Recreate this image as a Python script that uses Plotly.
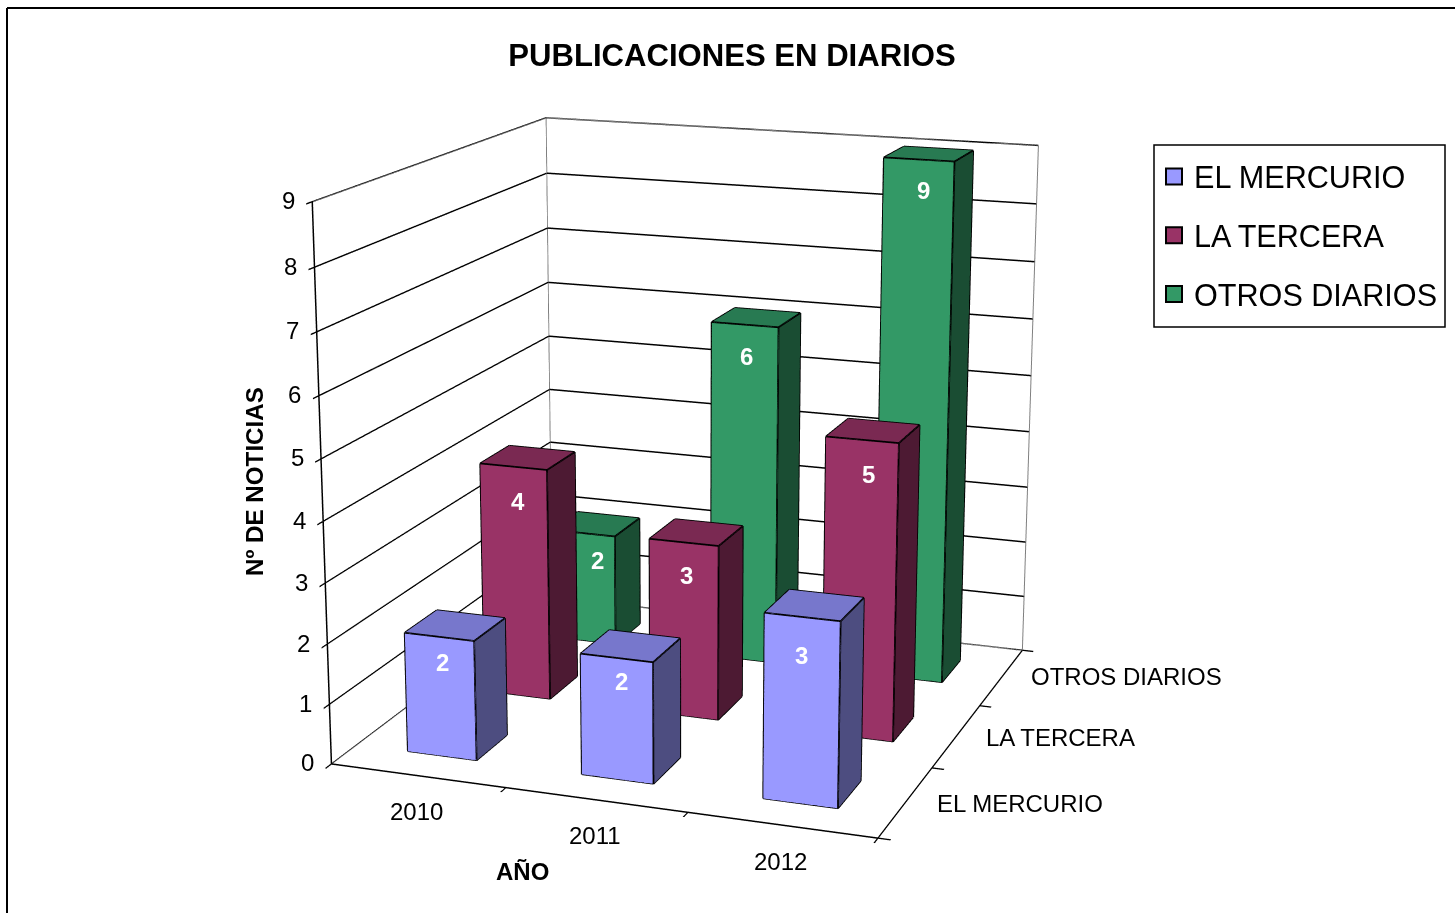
import plotly.graph_objects as go

YEARS = ["2010", "2011", "2012"]
SERIES = ["EL MERCURIO", "LA TERCERA", "OTROS DIARIOS"]
EL_MERCURIO = [2, 2, 3]
LA_TERCERA = [4, 3, 5]
OTROS_DIARIOS = [2, 6, 9]
VALUES = [EL_MERCURIO, LA_TERCERA, OTROS_DIARIOS]
Z_TICKS = list(range(10))
FRONT = ["#9999FF", "#993366", "#339966"]
TOP = ["#7777CC", "#7A2952", "#287A52"]
SIDE = ["#4D4D80", "#4D1A33", "#1A4D33"]
BAR_LO, BAR_HI = 0.3, 0.7
FONT = "Liberation Sans, Arial, sans-serif"

# pixel nudges for the labels, per series and year
LABEL_DX = [[0, 2, -4], [2, 0, 3], [11, -1, 1]]
LABEL_DY = [[-3, -5, 10], [6, 4, 6], [-2, 3, 2]]
SERIES_DX = [29, 27, 27]
SERIES_DY = [2, 2, -1]

# The page window is 913 tall; a taller plot area gives the longer lens the reference has.
W, H, TOP_OFFSET = 1455, 2400, 744
def px(x): return x / W
def py(y): return 1 - (y + TOP_OFFSET) / H

fig = go.Figure()
for j, (name, vals) in enumerate(zip(SERIES, VALUES)):
    vx, vy, vz, fi, fj, fk, fc = [], [], [], [], [], [], []
    ex, ey, ez = [], [], []
    for i, v in enumerate(vals):
        x0, x1, y0, y1 = i + BAR_LO, i + BAR_HI, j + BAR_LO, j + BAR_HI
        n = len(vx)
        vx += [x0, x1, x1, x0, x0, x1, x1, x0]
        vy += [y0, y0, y1, y1, y0, y0, y1, y1]
        vz += [0, 0, 0, 0, v, v, v, v]
        quads = [((0, 1, 5, 4), FRONT[j]), ((1, 2, 6, 5), SIDE[j]), ((4, 5, 6, 7), TOP[j]),
                 ((3, 2, 6, 7), SIDE[j]), ((0, 3, 7, 4), SIDE[j]), ((0, 1, 2, 3), SIDE[j])]
        for q, col in quads:
            fi += [n + q[0], n + q[0]]
            fj += [n + q[1], n + q[2]]
            fk += [n + q[2], n + q[3]]
            fc += [col, col]
        for a, b in [(0,1),(1,2),(2,3),(3,0),(4,5),(5,6),(6,7),(7,4),(0,4),(1,5),(2,6),(3,7)]:
            ex += [vx[n + a], vx[n + b], None]
            ey += [vy[n + a], vy[n + b], None]
            ez += [vz[n + a], vz[n + b], None]
    fig.add_trace(go.Mesh3d(x=vx, y=vy, z=vz, i=fi, j=fj, k=fk, facecolor=fc, flatshading=True,
                            lighting=dict(ambient=1, diffuse=0, specular=0, fresnel=0),
                            hoverinfo="skip", showlegend=False))
    fig.add_trace(go.Scatter3d(x=ex, y=ey, z=ez, mode="lines", line=dict(color="black", width=3.5),
                               hoverinfo="skip", showlegend=False))
    # legend key: a marker sitting inside the first bar of the series
    fig.add_trace(go.Scatter3d(x=[0.5], y=[j + 0.5], z=[vals[0] / 2], mode="markers", name=name,
                               legendgroup=name, showlegend=True, hoverinfo="skip",
                               marker=dict(symbol="square", size=20, color=FRONT[j],
                                           line=dict(color="black", width=2))))

NX, NY, NZ = len(YEARS), len(SERIES), Z_TICKS[-1]
fig.add_trace(go.Scatter3d(
    x=[0, 0, None, 0, 0, NX, NX, None, 0, NX, None, 0, 0],
    y=[0, NY, None, NY, NY, NY, NY, None, NY, NY, None, 0, NY],
    z=[NZ, NZ, None, 0, NZ, NZ, 0, None, 0, 0, None, 0, 0],
    mode="lines", line=dict(color="#808080", width=2), hoverinfo="skip", showlegend=False))

text_font = dict(family=FONT, size=24, color="black")
annos = []
for j, vals in enumerate(VALUES):
    for i, v in enumerate(vals):
        annos.append(dict(x=i + 0.5, y=j + BAR_LO, z=v, text=f"<b>{v}</b>", showarrow=False,
                          xshift=3 + LABEL_DX[j][i], yshift=-29 - LABEL_DY[j][i],
                          font=dict(family=FONT, size=24, color="white")))
for i, t in enumerate(YEARS):
    annos.append(dict(x=i + 0.5, y=0, z=0, text=t, showarrow=False, xshift=-1, yshift=-36, font=text_font))
for j, t in enumerate(SERIES):
    annos.append(dict(x=NX, y=j + 0.5, z=0, text=t, showarrow=False, xanchor="left",
                      xshift=SERIES_DX[j], yshift=-SERIES_DY[j], font=text_font))
for k in Z_TICKS:
    annos.append(dict(x=0, y=0, z=k, text=str(k), showarrow=False, xshift=-24, yshift=1, font=text_font))

axis_common = dict(showgrid=False, zeroline=False, showbackground=True, backgroundcolor="white",
                   showline=True, linecolor="black", linewidth=3, ticks="outside", ticklen=10,
                   tickcolor="black", tickwidth=3, title=dict(text=""), showspikes=False)
fig.update_layout(
    width=W, height=H, autosize=False, margin=dict(l=0, r=0, t=0, b=0),
    paper_bgcolor="white", font=dict(family=FONT, color="black"),
    title=dict(text="<b>PUBLICACIONES EN DIARIOS</b>", x=px(732), xanchor="center", y=py(55),
               yanchor="middle", font=dict(family=FONT, size=31.1, color="black")),
    legend=dict(x=px(1154), y=py(150), xanchor="left", yanchor="top", borderwidth=0,
                bgcolor="rgba(0,0,0,0)", font=dict(family=FONT, size=30.6, color="black"),
                tracegroupgap=16, itemsizing="trace"),
    scene=dict(
        domain=dict(x=[0, 1], y=[0, 1]),
        aspectmode="manual", aspectratio=dict(x=0.9997, y=1.0122, z=1.0),
        camera=dict(eye=dict(x=1.719, y=-4.7915, z=1.3517), center=dict(x=0.0539, y=0.0164, z=-0.0209),
                    up=dict(x=-0.08879, y=0.24489, z=0.96548), projection=dict(type="perspective")),
        xaxis=dict(axis_common, range=[0, NX], tickmode="array", tickvals=list(range(NX + 1)),
                   ticktext=[" "] * (NX + 1)),
        yaxis=dict(axis_common, range=[0, NY], tickmode="array", tickvals=list(range(NY + 1)),
                   ticktext=[" "] * (NY + 1)),
        zaxis=dict(axis_common, range=[0, NZ], tickmode="array", tickvals=Z_TICKS,
                   ticktext=[" "] * len(Z_TICKS), showgrid=True, gridcolor="black", gridwidth=3),
        annotations=annos),
    annotations=[
        dict(xref="paper", yref="paper", x=px(254), y=py(482), xanchor="center", yanchor="middle",
             text="<b>Nº DE NOTICIAS</b>", textangle=-90, showarrow=False,
             font=dict(family=FONT, size=24.2, color="black")),
        dict(xref="paper", yref="paper", x=px(522), y=py(871), xanchor="center", yanchor="middle",
             text="<b>AÑO</b>", showarrow=False, font=text_font),
    ],
    shapes=[
        dict(type="line", xref="paper", yref="paper", x0=px(7), x1=1, y0=py(8), y1=py(8),
             line=dict(color="black", width=2)),
        dict(type="line", xref="paper", yref="paper", x0=px(7), x1=px(7), y0=py(913), y1=py(8),
             line=dict(color="black", width=2)),
        dict(type="rect", xref="paper", yref="paper", x0=px(1154), x1=px(1445), y0=py(327), y1=py(145),
             line=dict(color="black", width=1.5), fillcolor="white"),
    ],
)
post = (
    "var gd=document.getElementById('{plot_id}');"
    "document.documentElement.style.overflow='hidden';"
    "document.body.style.margin='0';document.body.style.overflow='hidden';"
    f"gd.style.position='absolute';gd.style.left='0';gd.style.top='-{TOP_OFFSET}px';"
)
fig.write_html("out.html", post_script=post)
